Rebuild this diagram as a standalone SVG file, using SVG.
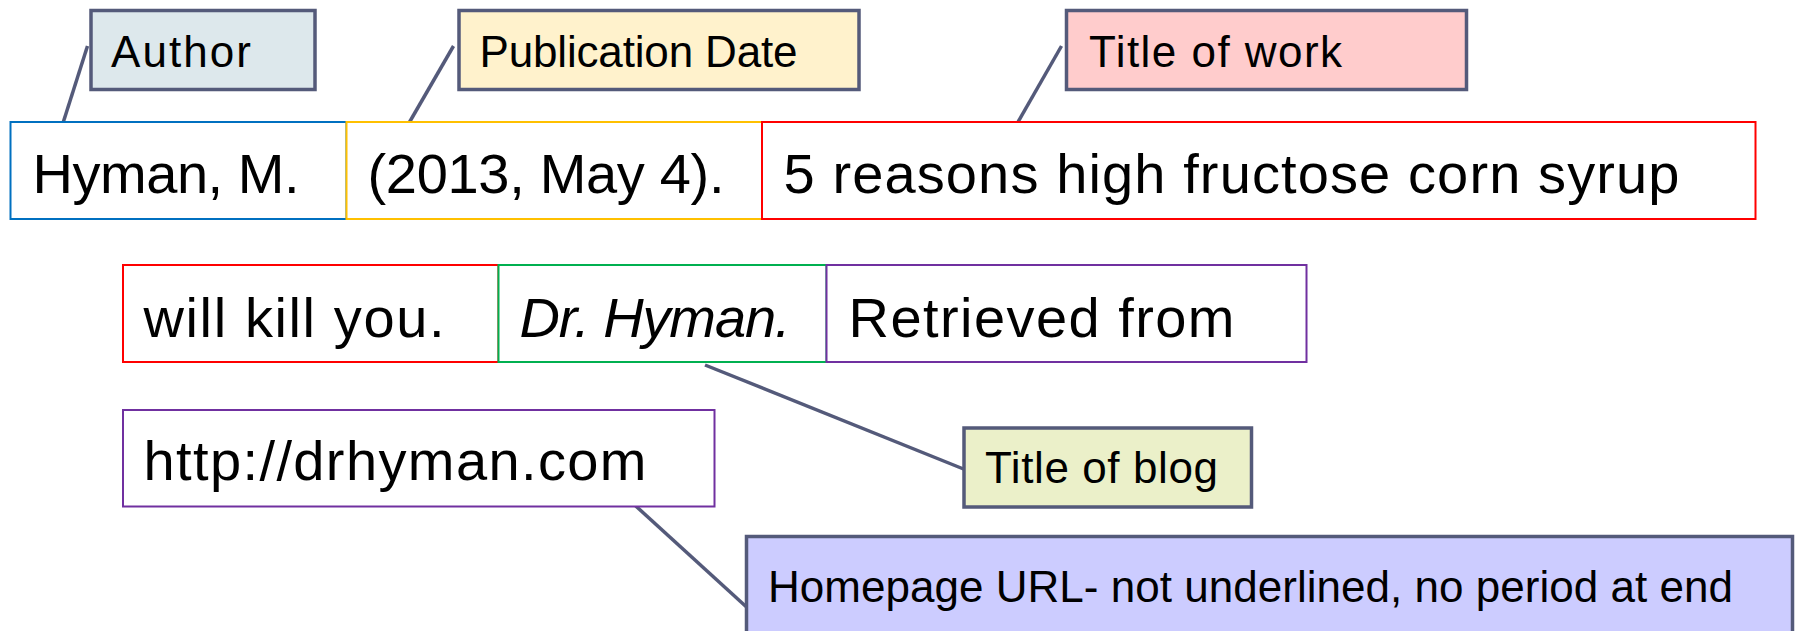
<svg xmlns="http://www.w3.org/2000/svg" width="1798" height="631" viewBox="0 0 1798 631">
<style>
.bg{fill:#ffffff}
.part{fill:#ffffff;stroke-width:2}
.call{stroke:#545a7a;stroke-width:3.5}
.conn{stroke:#545a7a;stroke-width:3.5;fill:none}
.big{font-family:"Liberation Sans",Arial,sans-serif;font-size:56px;fill:#000000}
.small{font-family:"Liberation Sans",Arial,sans-serif;font-size:44px;fill:#000000}
</style>
<rect class="bg" x="0" y="0" width="1798" height="631"/>
<g id="connectors">
<line class="conn" x1="87.5" y1="46" x2="63" y2="123"/>
<line class="conn" x1="453.5" y1="46" x2="409" y2="123"/>
<line class="conn" x1="1061.5" y1="46" x2="1017.5" y2="123"/>
<line class="conn" x1="705" y1="365" x2="966" y2="470"/>
<line class="conn" x1="632.5" y1="503" x2="746.5" y2="607"/>
</g>
<g id="author-part">
<rect class="part" x="10.5" y="122" width="336" height="97" stroke="#0070c0"/>
<text class="big" x="32.5" y="193.3" textLength="267" lengthAdjust="spacing">Hyman, M.</text>
</g>
<g id="date-part">
<rect class="part" x="346.5" y="122" width="415.5" height="97" stroke="#ffc000"/>
<text class="big" x="367.5" y="193.3" textLength="357" lengthAdjust="spacing">(2013, May 4).</text>
</g>
<g id="title-part-1">
<rect class="part" x="762" y="122" width="993.5" height="97" stroke="#ff0000"/>
<text class="big" x="783.5" y="193.3" textLength="896" lengthAdjust="spacing">5 reasons high fructose corn syrup</text>
</g>
<g id="title-part-2">
<rect class="part" x="123" y="265" width="375.5" height="97" stroke="#ff0000"/>
<text class="big" x="143.5" y="336.7" textLength="301" lengthAdjust="spacing">will kill you.</text>
</g>
<g id="blog-part">
<rect class="part" x="498.5" y="265" width="328" height="97" stroke="#00b050"/>
<text class="big" x="519.5" y="336.7" font-style="italic" textLength="271" lengthAdjust="spacing">Dr. Hyman.</text>
</g>
<g id="retrieved-part">
<rect class="part" x="826.5" y="265" width="480" height="97" stroke="#7030a0"/>
<text class="big" x="848.5" y="336.7" textLength="386" lengthAdjust="spacing">Retrieved from</text>
</g>
<g id="url-part">
<rect class="part" x="123" y="410" width="591.5" height="96.5" stroke="#7030a0"/>
<text class="big" x="143.5" y="480" textLength="503" lengthAdjust="spacing">http://drhyman.com</text>
</g>
<g id="author-label">
<rect class="call" x="91" y="10.5" width="224" height="79" fill="#dde8ec"/>
<text class="small" x="111" y="66.7" textLength="140" lengthAdjust="spacing">Author</text>
</g>
<g id="date-label">
<rect class="call" x="459" y="10.5" width="400" height="79" fill="#fff2cc"/>
<text class="small" x="479.5" y="66.7" textLength="318" lengthAdjust="spacing">Publication Date</text>
</g>
<g id="title-label">
<rect class="call" x="1066.5" y="10.5" width="400" height="79" fill="#ffcccc"/>
<text class="small" x="1089" y="66.7" textLength="253" lengthAdjust="spacing">Title of work</text>
</g>
<g id="blog-label">
<rect class="call" x="964" y="428" width="287.5" height="79" fill="#ebf0c9"/>
<text class="small" x="985" y="483.3" textLength="233" lengthAdjust="spacing">Title of blog</text>
</g>
<g id="url-label">
<rect class="call" x="746.5" y="536.5" width="1046" height="120" fill="#ccccff"/>
<text class="small" x="768" y="601.7" textLength="965" lengthAdjust="spacing">Homepage URL- not underlined, no period at end</text>
</g>
</svg>
